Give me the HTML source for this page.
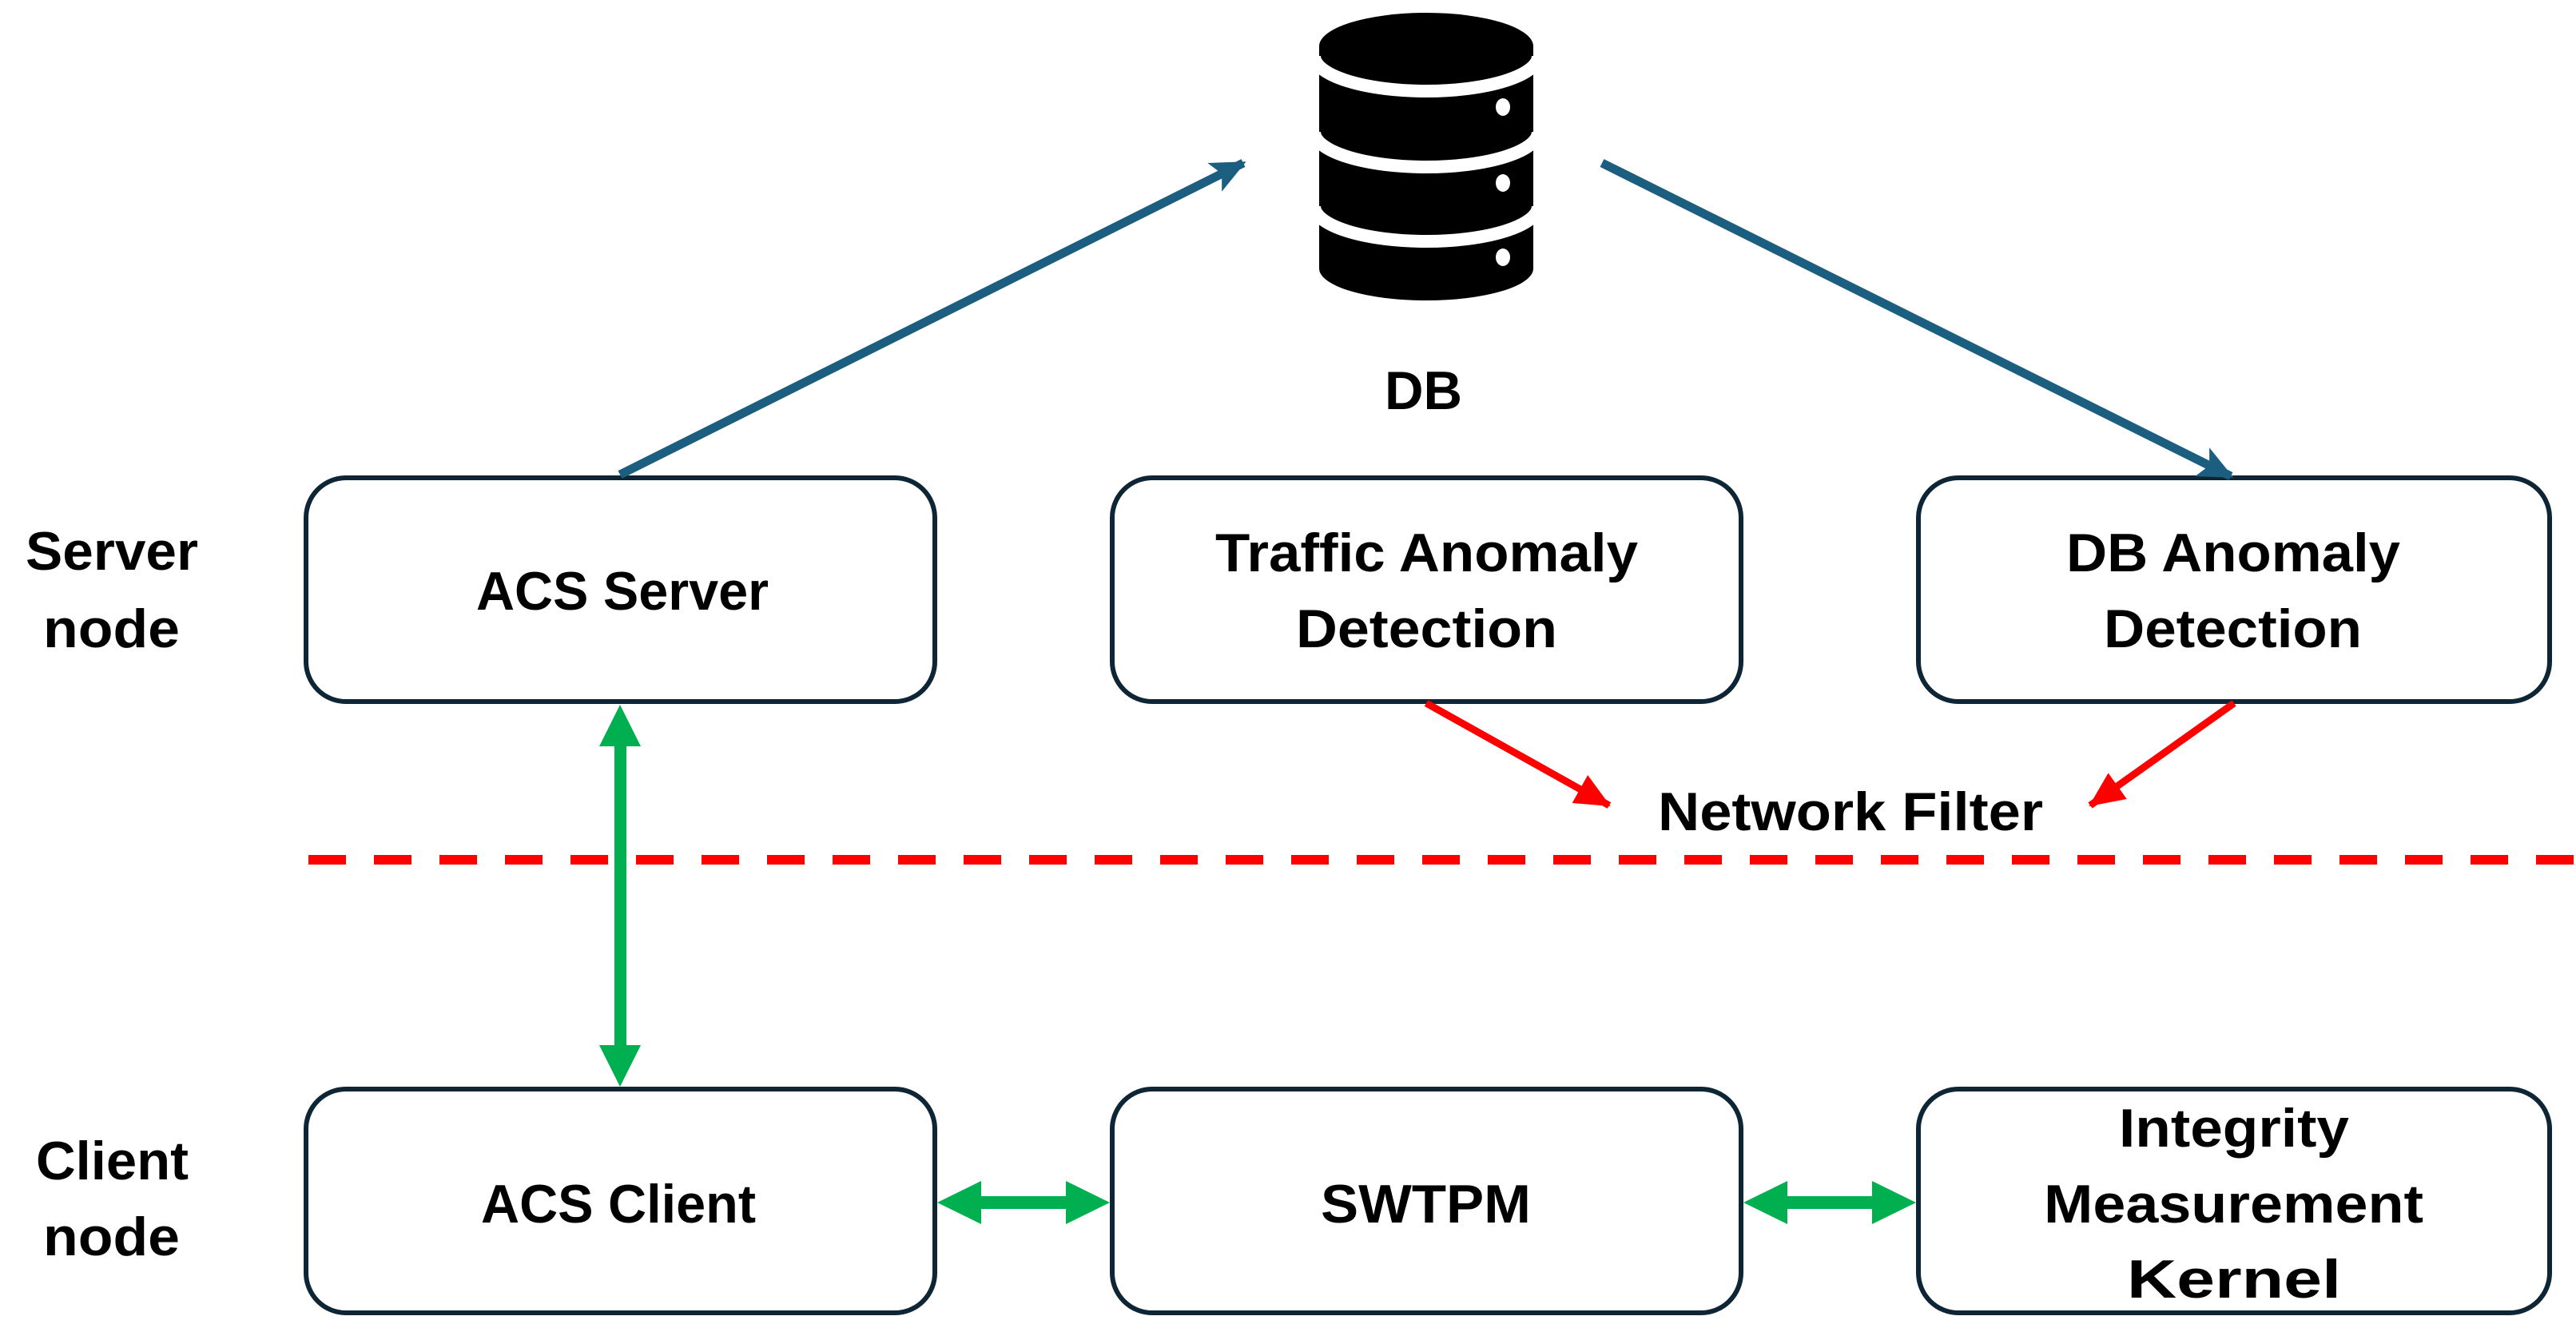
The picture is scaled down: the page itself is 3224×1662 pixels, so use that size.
<!DOCTYPE html>
<html><head><meta charset="utf-8"><style>
html,body{margin:0;padding:0;background:#fff;}
svg{display:block;}
text{font-family:"Liberation Sans",sans-serif;font-weight:bold;fill:#000;font-size:68px;}
</style></head><body>
<svg width="3224" height="1662" viewBox="0 0 3224 1662" xmlns="http://www.w3.org/2000/svg">
<defs>
<marker id="bh" markerUnits="userSpaceOnUse" markerWidth="44" markerHeight="44" refX="40" refY="22" orient="auto"><path d="M0,2 L44,22 L0,42 L10,22 Z" fill="#1b5e80"/></marker>
<marker id="rh" markerUnits="userSpaceOnUse" markerWidth="44" markerHeight="40" refX="42" refY="20" orient="auto"><path d="M0,0 L44,20 L0,40 Z" fill="#ff0000"/></marker>
</defs>
<g fill="#fff" stroke="#0d2535" stroke-width="6">
<rect x="383" y="598" width="787" height="280" rx="50"/>
<rect x="1392" y="598" width="787" height="280" rx="50"/>
<rect x="2401" y="598" width="790" height="280" rx="50"/>
<rect x="383" y="1363" width="787" height="280" rx="50"/>
<rect x="1392" y="1363" width="787" height="280" rx="50"/>
<rect x="2401" y="1363" width="790" height="280" rx="50"/>
</g>
<g>
<rect x="1651" y="58" width="268" height="278" fill="#000"/>
<ellipse cx="1785" cy="336" rx="134" ry="40" fill="#000"/>
<ellipse cx="1785" cy="58" rx="134" ry="42" fill="#000"/>
<g fill="none" stroke="#fff" stroke-width="16">
<path d="M1645,70 A140,44 0 0 0 1925,70"/>
<path d="M1645,165 A140,44 0 0 0 1925,165"/>
<path d="M1645,258 A140,44 0 0 0 1925,258"/>
</g>
<g fill="#fff"><ellipse cx="1881" cy="134" rx="9" ry="11"/><ellipse cx="1881" cy="229" rx="9" ry="11"/><ellipse cx="1881" cy="322" rx="9" ry="11"/></g>
</g>
<line x1="776" y1="594" x2="1556" y2="204" stroke="#1b5e80" stroke-width="11" marker-end="url(#bh)"/>
<line x1="2005" y1="204" x2="2792" y2="596" stroke="#1b5e80" stroke-width="11" marker-end="url(#bh)"/>
<line x1="1785" y1="880" x2="2014" y2="1008" stroke="#ff0000" stroke-width="9" marker-end="url(#rh)"/>
<line x1="2796" y1="880" x2="2616" y2="1008" stroke="#ff0000" stroke-width="9" marker-end="url(#rh)"/>
<line x1="380" y1="1076" x2="3224" y2="1076" stroke="#ff0000" stroke-width="12" stroke-dasharray="47 35" stroke-dashoffset="76"/>
<g fill="#00b050">
<rect x="769" y="925" width="15" height="390"/>
<path d="M776,882 L802,934 L750,934 Z"/>
<path d="M776,1360 L802,1308 L750,1308 Z"/>
<rect x="1220" y="1497" width="122" height="16"/>
<path d="M1173,1505 L1228,1478 L1228,1532 Z"/>
<path d="M1389,1505 L1334,1478 L1334,1532 Z"/>
<rect x="2229" y="1497" width="122" height="16"/>
<path d="M2182,1505 L2237,1478 L2237,1532 Z"/>
<path d="M2398,1505 L2343,1478 L2343,1532 Z"/>
</g>
<text x="32" y="713" textLength="216" lengthAdjust="spacingAndGlyphs">Server</text>
<text x="54" y="810" textLength="171" lengthAdjust="spacingAndGlyphs">node</text>
<text x="45" y="1476" textLength="191" lengthAdjust="spacingAndGlyphs">Client</text>
<text x="54" y="1571" textLength="171" lengthAdjust="spacingAndGlyphs">node</text>
<text x="1733" y="512" textLength="97" lengthAdjust="spacingAndGlyphs">DB</text>
<text x="596" y="763" textLength="366" lengthAdjust="spacingAndGlyphs">ACS Server</text>
<text x="1521" y="715" textLength="529" lengthAdjust="spacingAndGlyphs">Traffic Anomaly</text>
<text x="1622" y="810" textLength="327" lengthAdjust="spacingAndGlyphs">Detection</text>
<text x="2586" y="715" textLength="418" lengthAdjust="spacingAndGlyphs">DB Anomaly</text>
<text x="2633" y="810" textLength="323" lengthAdjust="spacingAndGlyphs">Detection</text>
<text x="2075" y="1039" textLength="482" lengthAdjust="spacingAndGlyphs">Network Filter</text>
<text x="602" y="1530" textLength="344" lengthAdjust="spacingAndGlyphs">ACS Client</text>
<text x="1653" y="1530" textLength="263" lengthAdjust="spacingAndGlyphs">SWTPM</text>
<text x="2652" y="1435" textLength="288" lengthAdjust="spacingAndGlyphs">Integrity</text>
<text x="2558" y="1530" textLength="475" lengthAdjust="spacingAndGlyphs">Measurement</text>
<text x="2662" y="1624" textLength="268" lengthAdjust="spacingAndGlyphs">Kernel</text>
</svg>
</body></html>
